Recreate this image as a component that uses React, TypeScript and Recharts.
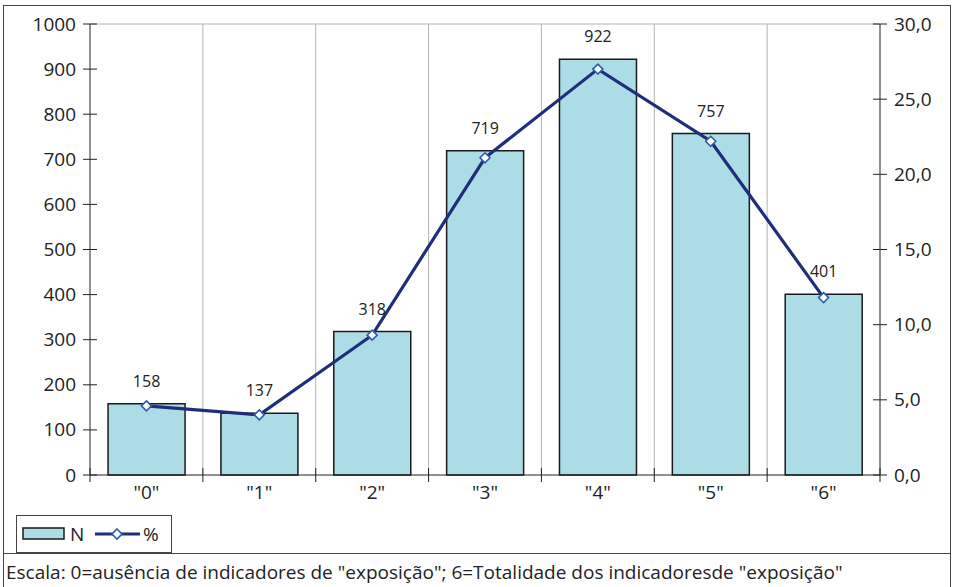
import React from "react";
import {
  ComposedChart,
  Bar,
  Line,
  XAxis,
  YAxis,
  CartesianGrid,
  ReferenceLine,
  LabelList,
} from "recharts";

const categories = ['"0"', '"1"', '"2"', '"3"', '"4"', '"5"', '"6"'];
const countN = [158, 137, 318, 719, 922, 757, 401];
const percent = [4.6, 4.0, 9.3, 21.1, 27.0, 22.2, 11.8];
const leftTicks = [0, 100, 200, 300, 400, 500, 600, 700, 800, 900, 1000];
const rightTicks = [0, 5, 10, 15, 20, 25, 30];
const footnote =
  'Escala: 0=ausência de indicadores de "exposição"; 6=Totalidade dos indicadoresde "exposição"';

const data = categories.map((cat, i) => ({
  cat,
  N: countN[i],
  pct: percent[i],
}));

const FONT = '"Open Sans", "Noto Sans", sans-serif';
const TEXT = "#222";
const BAR_FILL = "#acdde6";
const BAR_STROKE = "#1a1a1a";
const LINE_COLOR = "#1f2e7a";
const DOT_STROKE = "#2b5cb0";
const GRID = "#b4b4b4";

function Diamond({ cx, cy }: { cx?: number; cy?: number }) {
  if (cx == null || cy == null) return null;
  const r = 5;
  return (
    <path
      d={`M${cx},${cy - r} L${cx + r},${cy} L${cx},${cy + r} L${cx - r},${cy} Z`}
      fill="#fff"
      stroke={DOT_STROKE}
      strokeWidth={1.6}
    />
  );
}

function LeftTick(props: any) {
  const { x, y, payload } = props;
  return (
    <g>
      <line x1={x - 7} x2={x + 7} y1={y} y2={y} stroke="#222" />
      <text x={x - 14} y={y} dy={6.5} textAnchor="end" fontSize={19} fill={TEXT} fontFamily={FONT}>
        {payload.value}
      </text>
    </g>
  );
}

function RightTick(props: any) {
  const { x, y, payload } = props;
  return (
    <g>
      <line x1={x - 7} x2={x + 7} y1={y} y2={y} stroke="#222" />
      <text x={x + 14} y={y} dy={6.5} textAnchor="start" fontSize={19} fill={TEXT} fontFamily={FONT}>
        {payload.value.toFixed(1).replace(".", ",")}
      </text>
    </g>
  );
}

function BottomTick(props: any) {
  const { x, y, payload, index, width } = props;
  const band = width / categories.length;
  const left = x - band / 2;
  return (
    <g>
      <line x1={left} x2={left} y1={y - 7} y2={y + 7} stroke="#222" />
      {index === categories.length - 1 && (
        <line x1={x + band / 2} x2={x + band / 2} y1={y - 7} y2={y + 7} stroke="#222" />
      )}
      <text x={x} y={y + 24} textAnchor="middle" fontSize={19} fill={TEXT} fontFamily={FONT}>
        {payload.value}
      </text>
    </g>
  );
}

export default function App() {
  return (
    <div
      style={{
        position: "absolute",
        left: 3,
        top: 5,
        width: 948,
        height: 582,
        border: "1px solid #444",
        borderBottom: "none",
        boxSizing: "border-box",
        background: "#fff",
        fontFamily: FONT,
      }}
    >
      <ComposedChart
        width={946}
        height={510}
        data={data}
        margin={{ top: 18, right: 0, bottom: 6, left: 0 }}
        barCategoryGap="16%"
      >
        <CartesianGrid
          horizontal={false}
          stroke={GRID}
          verticalCoordinatesGenerator={({ offset }: any) =>
            categories.slice(1).map((_, i) => offset.left + ((i + 1) * offset.width) / categories.length)
          }
        />
        <ReferenceLine yAxisId="left" y={1000} stroke={GRID} />
        <XAxis
          dataKey="cat"
          height={35}
          tickSize={0}
          tickMargin={0}
          axisLine={{ stroke: "#222" }}
          tick={<BottomTick />}
          interval={0}
        />
        <YAxis
          yAxisId="left"
          width={86}
          domain={[0, 1000]}
          ticks={leftTicks}
          tickSize={0}
          tickMargin={0}
          axisLine={{ stroke: "#222" }}
          tick={<LeftTick />}
          interval={0}
        />
        <YAxis
          yAxisId="right"
          orientation="right"
          width={70}
          domain={[0, 30]}
          ticks={rightTicks}
          tickSize={0}
          tickMargin={0}
          axisLine={{ stroke: "#222" }}
          tick={<RightTick />}
          interval={0}
        />
        <Bar
          yAxisId="left"
          dataKey="N"
          fill={BAR_FILL}
          stroke={BAR_STROKE}
          strokeWidth={1.5}
          isAnimationActive={false}
        >
          <LabelList
            dataKey="N"
            position="top"
            offset={17}
            fontSize={16}
            fill={TEXT}
            fontFamily={FONT}
          />
        </Bar>
        <Line
          yAxisId="right"
          dataKey="pct"
          stroke={LINE_COLOR}
          strokeWidth={3.2}
          dot={<Diamond />}
          activeDot={false}
          isAnimationActive={false}
        />
      </ComposedChart>

      {/* legend */}
      <div
        style={{
          position: "absolute",
          left: 12,
          top: 509,
          width: 156,
          height: 38,
          border: "1px solid #444",
          boxSizing: "border-box",
        }}
      >
        <svg width={156} height={38} style={{ position: "absolute", left: -1, top: -1 }}>
          <rect x={7} y={13} width={41} height={11} fill={BAR_FILL} stroke={BAR_STROKE} strokeWidth={1.5} />
          <text x={54} y={26} fontSize={19} fill={TEXT} fontFamily={FONT}>
            N
          </text>
          <line x1={79} x2={124} y1={19} y2={19} stroke={LINE_COLOR} strokeWidth={3} />
          <Diamond cx={101} cy={19} />
          <text x={127} y={26} fontSize={19} fill={TEXT} fontFamily={FONT}>
            %
          </text>
        </svg>
      </div>

      {/* footnote */}
      <div
        style={{
          position: "absolute",
          left: -1,
          top: 547,
          width: 948,
          height: 40,
          borderTop: "1px solid #444",
          borderLeft: "1px solid #444",
          borderRight: "1px solid #444",
          boxSizing: "border-box",
          fontSize: 19,
          color: TEXT,
          paddingLeft: 2,
          lineHeight: "36px",
          whiteSpace: "nowrap",
        }}
      >
        {footnote}
      </div>
    </div>
  );
}
